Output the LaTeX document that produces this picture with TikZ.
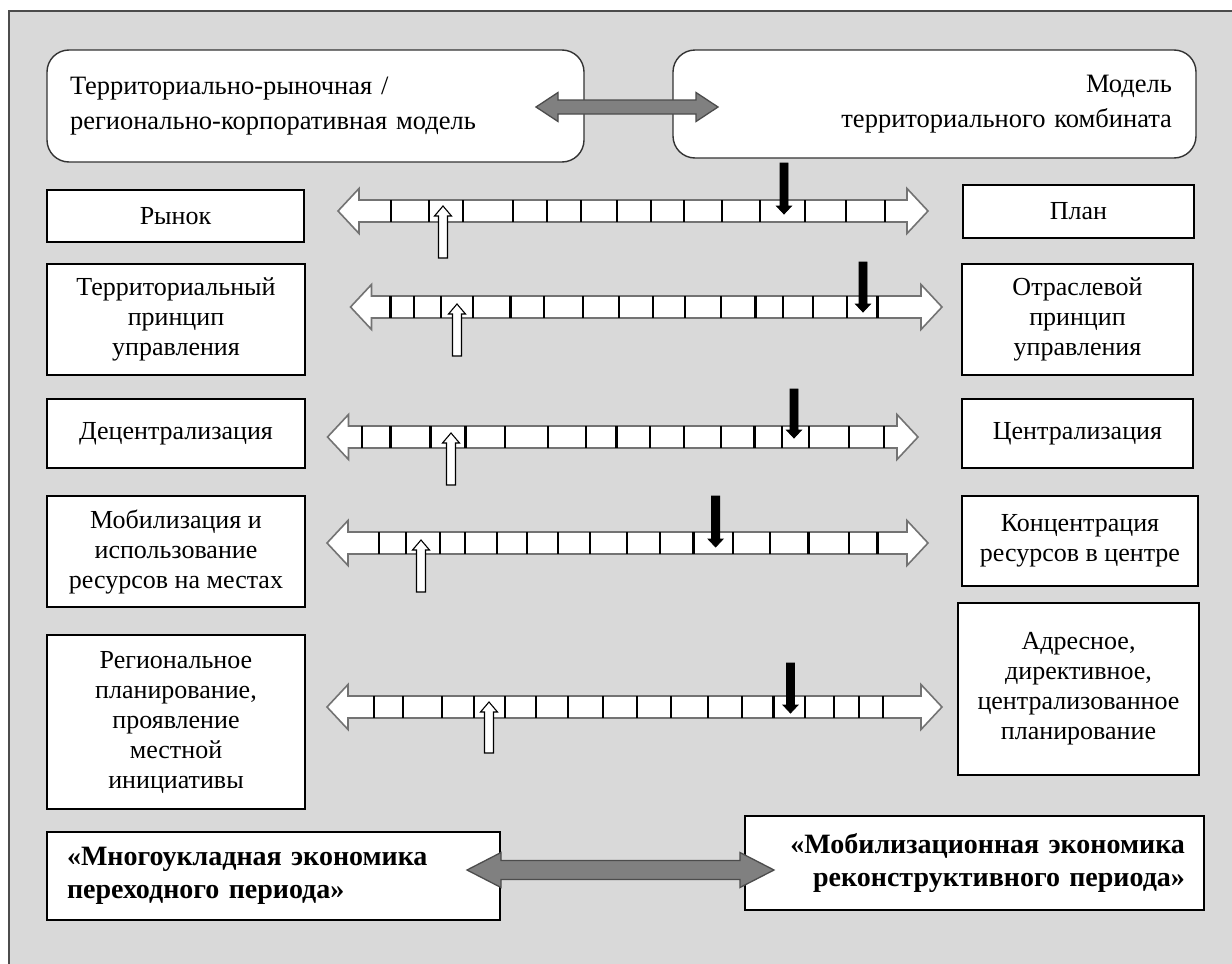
\documentclass[tikz,border=0pt]{standalone}
\usepackage{fontspec}
\setmainfont{Liberation Serif}

\newcommand{\dblarrow}[7][]{%
  \draw[#1] (#2,#4) -- ({#2+#7},{#4-#6}) -- ({#2+#7},{#4-#5}) -- ({#3-#7},{#4-#5})
    -- ({#3-#7},{#4-#6}) -- (#3,#4) -- ({#3-#7},{#4+#6}) -- ({#3-#7},{#4+#5})
    -- ({#2+#7},{#4+#5}) -- ({#2+#7},{#4+#6}) -- cycle;}
\newcommand{\ptrarrow}[7][]{%
  \draw[#1] ({#2-#5},#3) -- ({#2-#5},{#4-(#7)}) -- ({#2-#6},{#4-(#7)}) -- (#2,#4)
    -- ({#2+#6},{#4-(#7)}) -- ({#2+#5},{#4-(#7)}) -- ({#2+#5},#3) -- cycle;}

\tikzset{
  modelbox/.style={draw=black!80, line width=1.4pt, fill=white, rounded corners=22pt,
    inner sep=0pt, font=\fontsize{26.5}{35}\selectfont},
  termbox/.style={draw=black, line width=1.4pt, fill=white, inner sep=0pt,
    align=center, font=\fontsize{26}{30}\selectfont},
  ecobox/.style={draw=black, line width=1.6pt, fill=white, inner sep=0pt,
    font=\fontsize{28}{33}\selectfont\bfseries},
  linkarrow/.style={draw=black!70, line width=1.3pt, fill=black!50},
  scalebar/.style={draw=black!55, line width=1.6pt, fill=white},
  tick/.style={black, line width=2.2pt},
  marketptr/.style={draw=black, line width=1.1pt, fill=white},
  planptr/.style={draw=black, line width=0.8pt, fill=black}
}

\begin{document}
\begin{tikzpicture}[x=1pt, y=-1pt]
\useasboundingbox (0,0) rectangle (1232,964);
\clip (0,0) rectangle (1232,964);
\fill[white] (0,0) rectangle (1232,964);
\draw[draw=black!70, line width=2pt, fill=black!15] (9,11) rectangle (1260,1000);

\node[modelbox, minimum width=537pt, minimum height=112pt, text width=491pt, align=left]
  (trm) at (315.5,106) {Территориально-рыночная /\\ регионально-корпоративная модель};
\node[modelbox, minimum width=523pt, minimum height=108pt, text width=475pt, align=right]
  (tkm) at (934.5,104) {Модель\\ территориального комбината};
\dblarrow[linkarrow]{536}{718}{107}{7}{14.5}{22}

\node[termbox, minimum width=257pt, minimum height=52pt] (r1l) at (175.5,216) {Рынок};
\node[termbox, minimum width=231pt, minimum height=53pt] (r1r) at (1078.5,211.5) {План};
\dblarrow[scalebar]{338}{928}{211}{11}{22.5}{21}
\foreach \t in {391,429,463,513,547,581,617,651,684,722,760,805,846,885}
  \draw[tick] (\t,200) -- (\t,222);
\ptrarrow[marketptr]{443}{258}{206}{4.5}{8.5}{-10}
\ptrarrow[planptr]{784}{163}{214}{4}{7.5}{8}

\node[termbox, minimum width=258pt, minimum height=111pt] (r2l) at (176,319.5)
  {Территориальный\\ принцип\\ управления};
\node[termbox, minimum width=231pt, minimum height=111pt] (r2r) at (1077.5,319.5)
  {Отраслевой\\ принцип\\ управления};
\dblarrow[scalebar]{350.5}{942}{307}{11}{22.5}{21}
\foreach \t in {390.5,413.6,441,472.6,510.4,544,582.8,618.6,652.7,685,720.9,755.4,783.2,812.6,847.1,877.4}
  \draw[tick] (\t,296) -- (\t,318);
\ptrarrow[marketptr]{457}{356}{304}{4.5}{8.5}{-10}
\ptrarrow[planptr]{863}{262}{312}{4}{7.5}{8}

\node[termbox, minimum width=258pt, minimum height=69pt] (r3l) at (176,433.5) {Децентрализация};
\node[termbox, minimum width=231pt, minimum height=69pt] (r3r) at (1077.5,433.5) {Централизация};
\dblarrow[scalebar]{327.5}{918}{437}{11}{22.5}{21}
\foreach \t in {362.3,390.5,430.5,465.4,505,548.3,586.2,616.5,650.2,683.8,720.9,754.5,781.9,809.3,849.2,884.2}
  \draw[tick] (\t,426) -- (\t,448);
\ptrarrow[marketptr]{451}{485}{433}{4.5}{8.5}{-10}
\ptrarrow[planptr]{794}{389}{438}{4}{7.5}{8}

\node[termbox, minimum width=258pt, minimum height=111pt] (r4l) at (176,551.5)
  {Мобилизация и\\ использование\\ ресурсов на местах};
\node[termbox, minimum width=236pt, minimum height=90pt] (r4r) at (1080,541)
  {Концентрация\\ ресурсов в центре};
\dblarrow[scalebar]{327}{928}{543}{11}{22.5}{21}
\foreach \t in {379,406,440,465,497,527,558,590,627,660,693.5,732.7,770,808.4,849.2,877.4}
  \draw[tick] (\t,532) -- (\t,554);
\ptrarrow[marketptr]{421}{592}{540}{4.5}{8.5}{-10}
\ptrarrow[planptr]{715.6}{496}{547}{4}{7.5}{8}

\node[termbox, minimum width=258pt, minimum height=174pt] (r5l) at (176,722)
  {Региональное\\ планирование,\\ проявление\\ местной\\ инициативы};
\node[termbox, minimum width=241pt, minimum height=172pt] (r5r) at (1078.5,689)
  {Адресное,\\ директивное,\\ централизованное\\ планирование};
\dblarrow[scalebar]{327}{942}{707}{11}{22.5}{21}
\foreach \t in {373.7,403,441.8,473.8,505,535.7,568,603,636.7,671.2,708.2,742,773.5,805,833.7,859,883}
  \draw[tick] (\t,696) -- (\t,718);
\ptrarrow[marketptr]{489}{753}{702}{4.5}{8.5}{-10}
\ptrarrow[planptr]{790.5}{663}{713}{4}{7.5}{8}

\node[ecobox, minimum width=453pt, minimum height=88pt, text width=413pt, align=left]
  (mue) at (273.5,876) {«Многоукладная экономика\\ переходного периода»};
\node[ecobox, minimum width=459pt, minimum height=94pt, text width=421pt, align=right]
  (mbe) at (974.5,863) {«Мобилизационная экономика\\ реконструктивного периода»};
\dblarrow[linkarrow]{467}{774}{870}{9.5}{17.5}{34}
\end{tikzpicture}
\end{document}
